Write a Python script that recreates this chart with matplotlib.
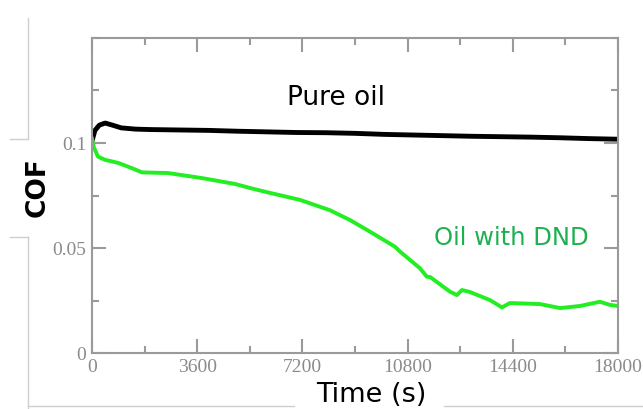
import matplotlib
matplotlib.use("Agg")
import matplotlib.pyplot as plt
from matplotlib.lines import Line2D
from matplotlib.ticker import MultipleLocator

# data (time in s, COF)
t_pure = [0, 100, 250, 450, 700, 1000, 1500, 2000, 3000, 4000, 5000, 6000, 7000,
          8000, 9000, 10000, 11000, 12000, 13000, 14000, 15000, 16000, 17000, 18000]
cof_pure = [0.101, 0.106, 0.1085, 0.1095, 0.1085, 0.1072, 0.1066, 0.1064, 0.1062, 0.1060,
            0.1056, 0.1053, 0.1050, 0.1049, 0.1046, 0.1041, 0.1038, 0.1035, 0.1032, 0.1030,
            0.1028, 0.1025, 0.1021, 0.1018]

t_dnd = [0, 60, 205, 445, 900, 1370, 1710, 2600, 3760, 4890, 5400, 5920, 7120, 8140,
         8830, 9510, 10370, 10540, 11220, 11460, 11570, 12250, 12490, 12660, 12940,
         13620, 14030, 14300, 15330, 16020, 16700, 17380, 17730, 18000]
cof_dnd = [0.102, 0.098, 0.0935, 0.092, 0.0905, 0.088, 0.086, 0.0857, 0.0833, 0.0805,
           0.0786, 0.0768, 0.0729, 0.068, 0.0633, 0.0578, 0.0506, 0.0483, 0.0404, 0.0363,
           0.0362, 0.0292, 0.0276, 0.030, 0.029, 0.0252, 0.0217, 0.0238, 0.0233, 0.0214,
           0.0224, 0.0244, 0.0229, 0.0224]

fig = plt.figure(figsize=(6.43, 4.09), dpi=100)
ax = fig.add_axes([0.1431, 0.1369, 0.818, 0.7702])

ax.plot(t_pure, cof_pure, color="black", lw=3.5)
ax.plot(t_dnd, cof_dnd, color="#22ee22", lw=2.8)

ax.set_xlim(0, 18000)
ax.set_ylim(0, 0.15)
ax.xaxis.set_minor_locator(MultipleLocator(1800))
ax.yaxis.set_minor_locator(MultipleLocator(0.025))
ax.set_yticks([0, 0.05, 0.1])
ax.set_yticklabels(["0", "0.05", "0.1"])
ax.set_xticks([0, 3600, 7200, 10800, 14400, 18000])
ax.set_xticklabels(["0", "3600", "7200", "10800", "14400", "18000"])

gray = "#8a8a8a"
for s in ax.spines.values():
    s.set_color("#9a9a9a")
    s.set_linewidth(1.5)
ax.tick_params(which="both", direction="in", top=True, right=True, color="#9a9a9a", width=1.5)
ax.tick_params(which="major", length=10, labelsize=14, labelcolor=gray, pad=4)
ax.tick_params(which="minor", length=5)
for lab in ax.get_xticklabels() + ax.get_yticklabels():
    lab.set_family(["Liberation Serif", "DejaVu Serif"])

ax.text(0.464, 0.81, "Pure oil", transform=ax.transAxes, fontsize=19, color="black",
        ha="center", va="center", family="DejaVu Sans")
ax.text(0.797, 0.365, "Oil with DND", transform=ax.transAxes, fontsize=17.5, color="#1db050",
        ha="center", va="center", family="DejaVu Sans")

fig.text(0.058, 0.542, "COF", rotation=90, fontsize=19, fontweight="bold",
         ha="center", va="center", family="DejaVu Sans")
fig.text(0.577, 0.035, "Time (s)", fontsize=19.5, ha="center", va="center",
         family="DejaVu Sans")

# leftover frame lines from the source screenshot
lc = "#cfcfcf"
W, H = 643.0, 409.0
segs = [((28, 28), (18, 139)), ((10, 28), (139, 139)),
        ((10, 28), (237, 237)), ((28, 28), (237, 409)),
        ((28, 294), (406, 406)), ((444, 643), (406, 406))]
for xs, ys in segs:
    fig.add_artist(Line2D([x / W for x in xs], [1 - y / H for y in ys], color=lc, lw=1))

fig.savefig("out.png", dpi=100)
